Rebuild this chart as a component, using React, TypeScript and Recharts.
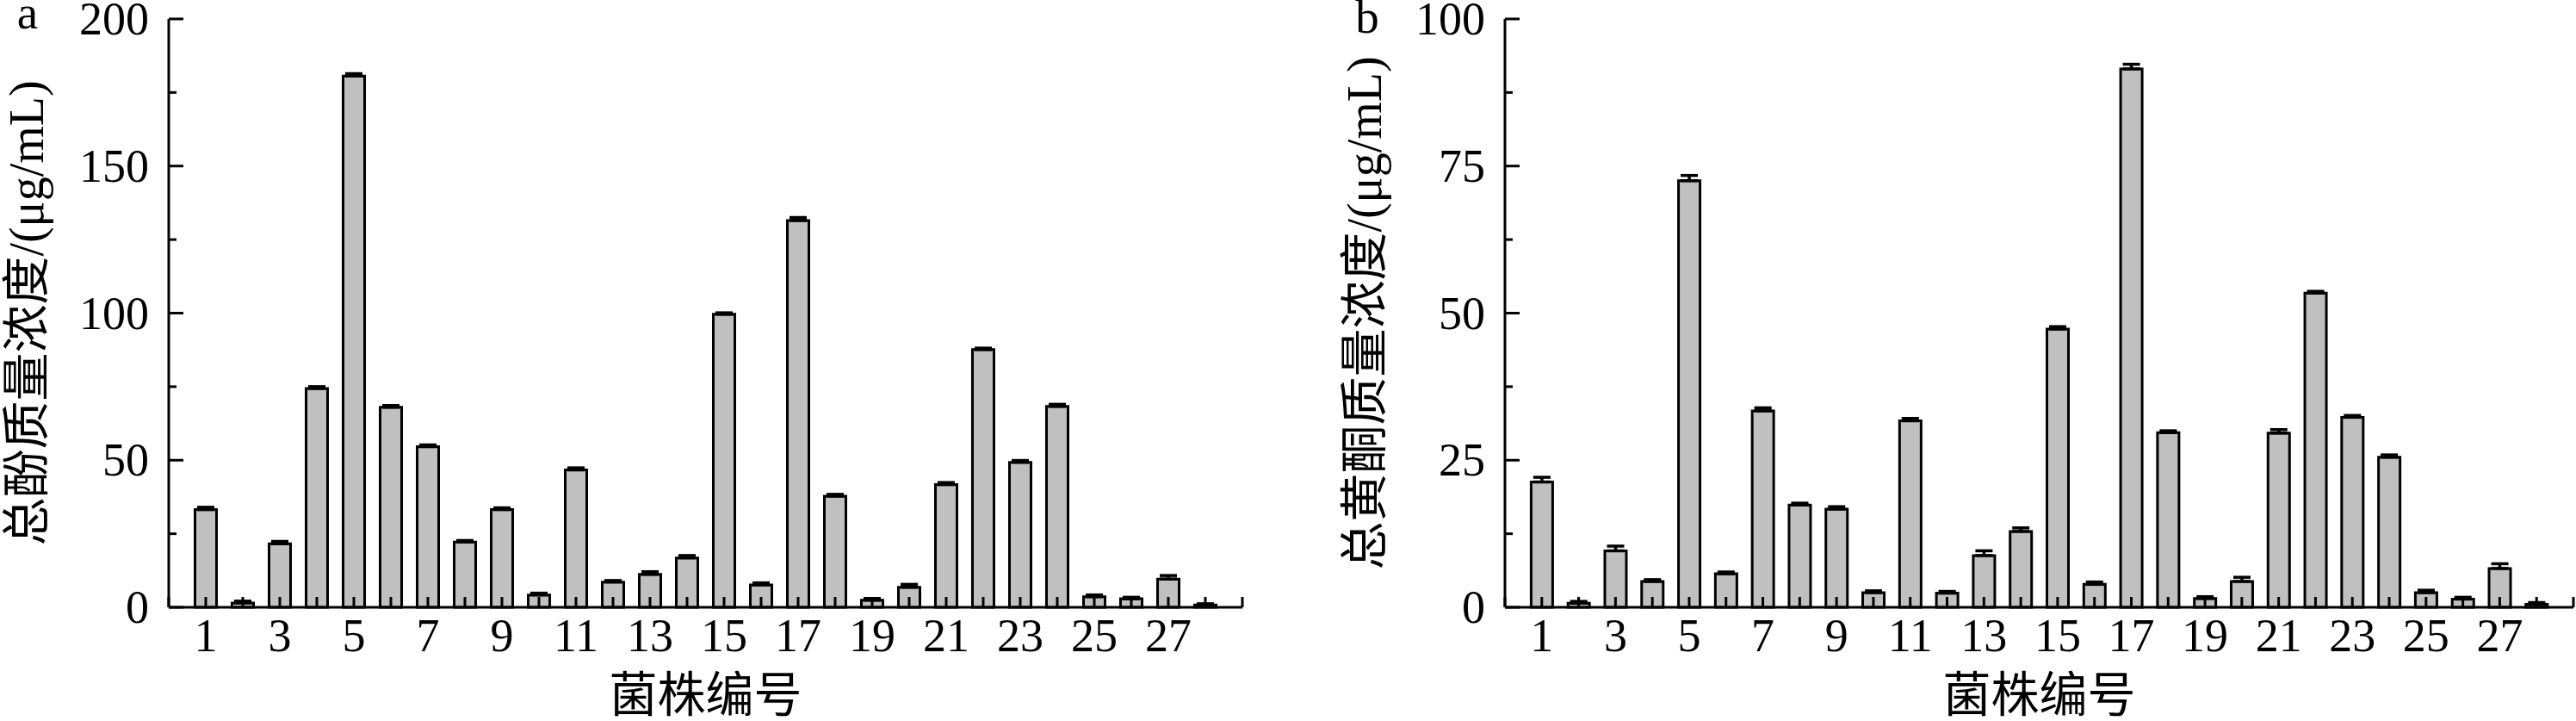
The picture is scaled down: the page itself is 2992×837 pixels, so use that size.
import { Bar, BarChart, ErrorBar, XAxis, YAxis } from "recharts";

const SERIF = '"Liberation Serif", "Noto Sans CJK SC", serif';

const strains = [1, 2, 3, 4, 5, 6, 7, 8, 9, 10, 11, 12, 13, 14, 15, 16, 17, 18, 19, 20, 21, 22, 23, 24, 25, 26, 27, 28];
const xTicks = [0, 1, 2, 3, 4, 5, 6, 7, 8, 9, 10, 11, 12, 13, 14, 15, 16, 17, 18, 19, 20, 21, 22, 23, 24, 25, 26, 27, 28, 29];
const xLabelled = [1, 3, 5, 7, 9, 11, 13, 15, 17, 19, 21, 23, 25, 27];

// a: 总酚
const phenol = [33.2, 1.5, 21.6, 74.4, 180.6, 68.0, 54.6, 22.2, 33.2, 4.2, 46.7, 8.6, 11.2, 16.8, 99.6, 7.6, 131.5, 37.8, 2.4, 6.8, 41.7, 87.6, 49.3, 68.3, 3.6, 2.9, 9.6, 0.8];
const phenolErr = [0.8, 0.6, 0.8, 0.6, 0.8, 0.6, 0.6, 0.5, 0.6, 0.6, 0.7, 0.5, 0.9, 0.8, 0.5, 0.7, 1.0, 0.6, 0.6, 1.0, 0.7, 0.5, 0.6, 0.7, 0.6, 0.5, 1.2, 0.4];
const phenolTicks = [0, 25, 50, 75, 100, 125, 150, 175, 200];

// b: 总黄酮
const flavone = [21.3, 0.7, 9.6, 4.4, 72.5, 5.7, 33.4, 17.4, 16.7, 2.5, 31.7, 2.4, 8.8, 12.9, 47.3, 3.9, 91.5, 29.7, 1.5, 4.4, 29.6, 53.4, 32.3, 25.5, 2.5, 1.4, 6.6, 0.5];
const flavoneErr = [0.8, 0.3, 0.8, 0.3, 0.9, 0.3, 0.5, 0.3, 0.4, 0.3, 0.4, 0.3, 0.8, 0.6, 0.4, 0.4, 0.8, 0.3, 0.3, 0.7, 0.6, 0.3, 0.3, 0.4, 0.4, 0.3, 0.8, 0.3];
const flavoneTicks = [0, 12.5, 25, 37.5, 50, 62.5, 75, 87.5, 100];

const phenolRows = strains.map((id, i) => ({ id, value: phenol[i], err: [0, phenolErr[i]] }));
const flavoneRows = strains.map((id, i) => ({ id, value: flavone[i], err: [0, flavoneErr[i]] }));

const Y_GAP = 23;

const makeYTick = (major: number) => (props: any) => {
  const { x, y, payload } = props;
  const v = payload.value;
  const isMajor = v % major === 0;
  const ax = x + Y_GAP;
  return (
    <g>
      <line x1={ax} x2={ax + (isMajor ? 17 : 9)} y1={y} y2={y} stroke="#000" strokeWidth={3} />
      {isMajor && (
        <text x={x} y={y} textAnchor="end" dominantBaseline="central" fontSize={54} fontFamily={SERIF} fill="#000">
          {v}
        </text>
      )}
    </g>
  );
};

const XTick = (props: any) => {
  const { x, y, payload } = props;
  const v = payload.value;
  return (
    <g>
      <line x1={x} x2={x} y1={y} y2={y - 12} stroke="#000" strokeWidth={3} />
      {xLabelled.includes(v) && (
        <text x={x} y={y + 51} textAnchor="middle" fontSize={54} fontFamily={SERIF} fill="#000">
          {v}
        </text>
      )}
    </g>
  );
};

const makeYTitle = (title: string, cx: number, letter: string, lx: number, ly: number) => (props: any) => {
  const vb = props.viewBox || {};
  const cy = (vb.y ?? 22) + (vb.height ?? 683) / 2;
  return (
    <g>
      <text
        x={cx}
        y={cy}
        transform={`rotate(-90, ${cx}, ${cy})`}
        textAnchor="middle"
        dominantBaseline="central"
        fontSize={56}
        fontFamily={SERIF}
        fill="#000"
      >
        {title}
      </text>
      <text x={lx} y={ly} textAnchor="middle" fontSize={55} fontFamily={SERIF} fill="#000">
        {letter}
      </text>
    </g>
  );
};

const makeXTitle = (title: string) => (props: any) => {
  const vb = props.viewBox || {};
  const cx = vb.x + vb.width / 2;
  return (
    <text x={cx} y={vb.y + 121} textAnchor="middle" fontSize={56} fontFamily={SERIF} fill="#000">
      {title}
    </text>
  );
};

function Panel({
  rows,
  yMax,
  yTicks,
  major,
  width,
  yWidth,
  right,
  title,
  titleX,
  letter,
  letterX,
  letterY
}: {
  rows: { id: number; value: number; err: number[] }[];
  yMax: number;
  yTicks: number[];
  major: number;
  width: number;
  yWidth: number;
  right: number;
  title: string;
  titleX: number;
  letter: string;
  letterX: number;
  letterY: number;
}) {
  return (
    <BarChart width={width} height={837} data={rows} margin={{ top: 22, right, bottom: 0, left: 0 }}>
      <Bar dataKey="value" fill="#c0c0c0" stroke="#000" strokeWidth={3} barSize={25} isAnimationActive={false}>
        <ErrorBar dataKey="err" direction="y" width={10} stroke="#000" strokeWidth={3.5} />
      </Bar>
      <XAxis
        dataKey="id"
        type="number"
        domain={[0, 29]}
        ticks={xTicks}
        interval={0}
        height={132}
        tickLine={false}
        tickSize={0}
        tickMargin={0}
        tick={XTick}
        axisLine={{ stroke: "#000", strokeWidth: 3 }}
        label={{ content: makeXTitle("菌株编号") }}
      />
      <YAxis
        type="number"
        domain={[0, yMax]}
        ticks={yTicks}
        interval={0}
        width={yWidth}
        tickLine={false}
        tickSize={0}
        tickMargin={Y_GAP}
        tick={makeYTick(major)}
        axisLine={{ stroke: "#000", strokeWidth: 3 }}
        label={{ content: makeYTitle(title, titleX, letter, letterX, letterY) }}
      />
    </BarChart>
  );
}

export default function App() {
  return (
    <div style={{ position: "absolute", left: 0, top: 0, width: 2992, height: 837, background: "#fff" }}>
      <div style={{ position: "absolute", left: 0, top: 0 }}>
        <Panel
          rows={phenolRows}
          yMax={200}
          yTicks={phenolTicks}
          major={50}
          width={1500}
          yWidth={196}
          right={57}
          title="总酚质量浓度/(μg/mL)"
          titleX={31}
          letter="a"
          letterX={32}
          letterY={33}
        />
      </div>
      <div style={{ position: "absolute", left: 1500, top: 0 }}>
        <Panel
          rows={flavoneRows}
          yMax={100}
          yTicks={flavoneTicks}
          major={25}
          width={1492}
          yWidth={248}
          right={3}
          title="总黄酮质量浓度/(μg/mL)"
          titleX={85}
          letter="b"
          letterX={88}
          letterY={38}
        />
      </div>
    </div>
  );
}
